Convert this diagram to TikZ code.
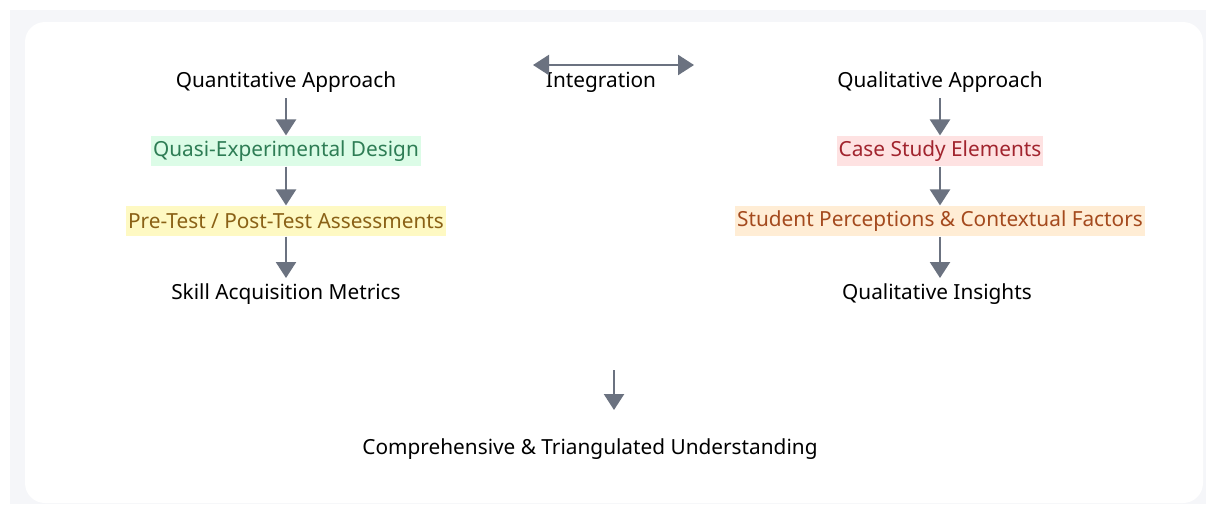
\documentclass[tikz,border=0pt]{standalone}
\usepackage{fontspec}
\setmainfont{Noto Sans}
\usetikzlibrary{positioning,arrows.meta}
\definecolor{pagebg}{HTML}{F5F6F9}
\definecolor{arrowgray}{HTML}{6B7280}
\definecolor{greenbg}{HTML}{DCFCE7}
\definecolor{greentx}{HTML}{2E7D55}
\definecolor{yellowbg}{HTML}{FEF9C3}
\definecolor{yellowtx}{HTML}{8A6116}
\definecolor{pinkbg}{HTML}{FEE2E2}
\definecolor{pinktx}{HTML}{A1242E}
\definecolor{orangebg}{HTML}{FFEDD5}
\definecolor{orangetx}{HTML}{A44A1E}
\tikzset{
  lbl/.style ={font=\fontsize{15.6pt}{18pt}\selectfont, text=black, inner sep=4pt},
  hl/.style  ={lbl, inner xsep=1.5pt, inner ysep=0pt, minimum height=23pt},
  quasi/.style ={hl, fill=greenbg, text=greentx},
  prepost/.style ={hl, fill=yellowbg, text=yellowtx},
  casest/.style ={hl, fill=pinkbg, text=pinktx},
  percep/.style ={hl, fill=orangebg, text=orangetx},
  e/.style   ={-{Triangle[length=12pt,width=15pt]}, draw=arrowgray, line width=1.8pt},
  ee/.style  ={{Triangle[length=12pt,width=15pt]}-{Triangle[length=12pt,width=15pt]}, draw=arrowgray, line width=1.8pt},
}

\begin{document}
\begin{tikzpicture}[x=0.75pt, y=-0.75pt]
\useasboundingbox (0,0) rectangle (1206,504);
\fill[pagebg] (10,10) rectangle (1206,504);
\fill[white, rounded corners=15pt] (25,22) rectangle (1203,503);
% quantitative side
\node[lbl] (quant) at (286,82) {Quantitative Approach};
\node[quasi] (qed) at (286,151) {Quasi-Experimental Design};
\node[prepost] (ppt) at (286,221) {Pre-Test / Post-Test Assessments};
\node[lbl] (skill) at (286,294) {Skill Acquisition Metrics};
\draw[e] (quant) -- (qed);
\draw[e] (qed) -- (ppt);
\draw[e] (ppt) -- (skill);
% qualitative side
\node[lbl] (qual) at (940,82) {Qualitative Approach};
\node[casest] (cse) at (940,151) {Case Study Elements};
\node[percep] (spc) at (940,221) {Student Perceptions \& Contextual Factors};
\node[lbl] (qins) at (937,294) {Qualitative Insights};
\draw[e] (qual) -- (cse);
\draw[e] (cse) -- (spc);
\draw[e] (spc.south) -- (spc.south |- qins.north);
% integration
\node[lbl] (integ) at (601,82) {Integration};
\coordinate (intL) at (533,65);
\coordinate (intR) at (694,65);
\draw[ee] (intL) -- (intR);
% result
\coordinate (resT) at (614,370);
\coordinate (resB) at (614,410);
\draw[e] (resT) -- (resB);
\node[lbl] (comp) at (590,449) {Comprehensive \& Triangulated Understanding};
\end{tikzpicture}
\end{document}
